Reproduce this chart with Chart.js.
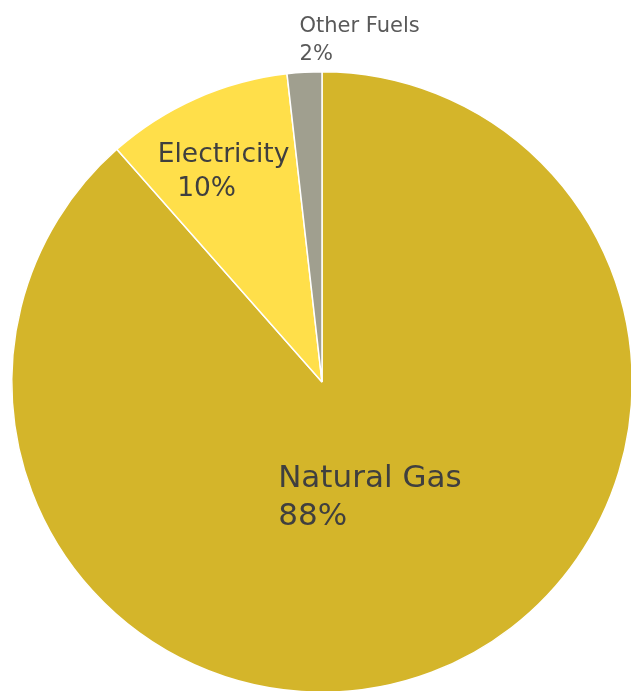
<!DOCTYPE html>
<html>
<head>
<meta charset="utf-8">
<script src="https://cdn.jsdelivr.net/npm/chart.js@4.4.1/dist/chart.umd.min.js"></script>
<style>
  html, body { margin: 0; padding: 0; background: #ffffff; overflow: hidden; }
  #wrap { position: absolute; left: 0; top: 0; width: 640px; height: 700px; }
</style>
</head>
<body>
<div id="wrap"><canvas id="myChart" width="640" height="700"></canvas></div>
<script>
// data
const fuelLabels = ['Natural Gas', 'Electricity', 'Other Fuels'];
const fuelShares = [88.5, 9.7, 1.8];
const pctLabels = ['88%', '10%', '2%'];
const sliceColors = ['#D4B52A', '#FFDF4A', '#A09F8F'];

// where each data label sits: fraction of the radius along the slice's middle angle, plus a small nudge
const labelStyle = [
    { f: 0.40, dx: 4, dy: -3, mode: 'block', size: 31, lh: 38, color: '#3f3f3f', shift: [0, 0] },
    { f: 0.75, dx: -4, dy: 0, mode: 'center', size: 26.5, lh: 34, color: '#3f3f3f', shift: [0, -17] },
    { f: 1.11, dx: -3, dy: 0, mode: 'left', size: 21, lh: 28, color: '#595959', shift: [0, 0] }
];

const dataLabels = {
    id: 'dataLabels',
    afterDatasetsDraw(chart) {
        const ctx = chart.ctx;
        const arcs = chart.getDatasetMeta(0).data;
        arcs.forEach(function (arc, i) {
            const p = arc.getProps(['x', 'y', 'startAngle', 'endAngle', 'outerRadius'], true);
            const mid = (p.startAngle + p.endAngle) / 2;
            const st = labelStyle[i];
            const ax = p.x + Math.cos(mid) * p.outerRadius * st.f + st.dx;
            const ay = p.y + Math.sin(mid) * p.outerRadius * st.f + st.dy;
            const lines = [fuelLabels[i], pctLabels[i]];
            ctx.save();
            ctx.font = st.size + 'px "DejaVu Sans"';
            ctx.fillStyle = st.color;
            ctx.textBaseline = 'alphabetic';
            const cap = st.size * 0.73;
            let y = ay - (lines.length - 1) * st.lh / 2 + cap / 2;
            let left = ax;
            if (st.mode === 'block') {
                const w = Math.max.apply(null, lines.map(function (t) { return ctx.measureText(t).width; }));
                left = ax - w / 2;
            }
            lines.forEach(function (t, k) {
                if (st.mode === 'center') {
                    ctx.textAlign = 'center';
                    ctx.fillText(t, ax + st.shift[k], y);
                } else {
                    ctx.textAlign = 'left';
                    ctx.fillText(t, left + st.shift[k], y);
                }
                y += st.lh;
            });
            ctx.restore();
        });
    }
};

const ctx = document.getElementById('myChart').getContext('2d');
const myChart = new Chart(ctx, {
    type: 'pie',
    data: {
        labels: fuelLabels,
        datasets: [{
            data: fuelShares,
            backgroundColor: sliceColors,
            borderColor: '#ffffff',
            borderWidth: 1.5
        }]
    },
    options: {
        responsive: false,
        animation: false,
        layout: { padding: { left: 11, top: 71, right: 7, bottom: 7 } },
        plugins: {
            legend: { display: false },
            tooltip: { enabled: false }
        }
    },
    plugins: [dataLabels]
});
</script>
</body>
</html>
